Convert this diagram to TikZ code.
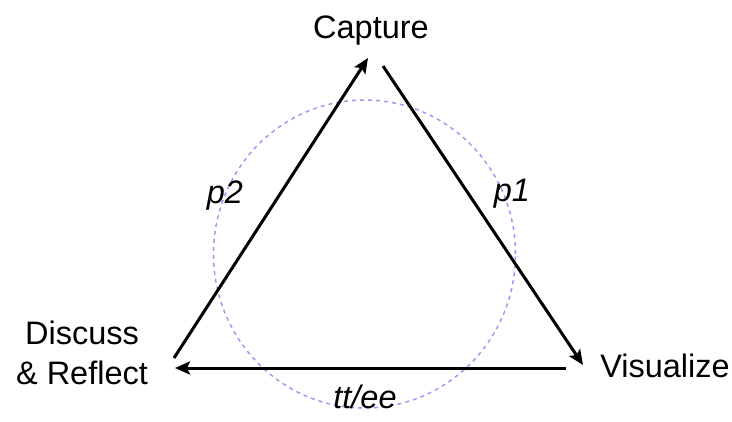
\documentclass[tikz,border=0pt]{standalone}
\usepackage{fontspec}
\setmainfont{Liberation Sans}
\usepackage{xcolor}
\usetikzlibrary{arrows.meta,positioning}
\definecolor{ringblue}{HTML}{9C9CF2}

\begin{document}
\begin{tikzpicture}[x=1pt,y=-1pt,
  font=\fontsize{32.5}{40}\selectfont,
  step label/.style={font=\fontsize{32.5}{40}\selectfont\itshape},
  cycle arrow/.style={line width=3pt,-{Stealth[length=15pt,width=13pt,inset=3pt]}}]
\useasboundingbox (0,0) rectangle (732,421);
% dashed ring behind the cycle
\draw[ringblue,line width=1.5pt,dash pattern=on 4pt off 4pt] (364.5,254) ellipse [x radius=151pt,y radius=154pt];
% stages
\node (capture) at (371,31) {Capture};
\node (visualize) at (665,366) {Visualize};
\node[align=center] (discuss) at (82,353) {Discuss\\\& Reflect};
% arrow ends
\coordinate (capL) at (368,58);
\coordinate (capR) at (383,66);
\coordinate (visT) at (583,365);
\coordinate (visL) at (566,368);
\coordinate (disR) at (175,368);
\coordinate (disT) at (174,358);
\draw[cycle arrow] (capR) -- (visT);
\draw[cycle arrow] (visL) -- (disR);
\draw[cycle arrow] (disT) -- (capL);
% labels
\node[step label] (pone) at (512,194) {p1};
\node[step label] (ptwo) at (225,196) {p2};
\node[step label] (ttee) at (365,397) {tt/ee};
\end{tikzpicture}
\end{document}
